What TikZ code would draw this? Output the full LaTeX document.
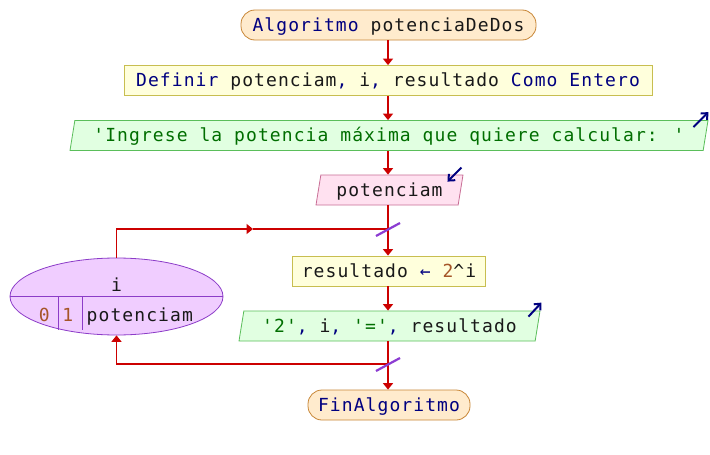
\documentclass[tikz,border=0pt]{standalone}
\usepackage{fontspec}
\newfontfamily\codefont{DejaVu Sans Mono}[LetterSpace=6]
\usetikzlibrary{shapes.geometric,arrows.meta}

\definecolor{kw}{RGB}{0,0,128}
\definecolor{strg}{RGB}{0,110,0}
\definecolor{numc}{RGB}{165,85,40}
\definecolor{txt}{RGB}{25,25,25}
\definecolor{flowred}{RGB}{204,0,0}
\definecolor{termfill}{RGB}{255,235,205}
\definecolor{termdraw}{RGB}{200,135,55}
\definecolor{procfill}{RGB}{255,255,220}
\definecolor{procdraw}{RGB}{200,190,80}
\definecolor{outfill}{RGB}{225,255,225}
\definecolor{outdraw}{RGB}{90,190,90}
\definecolor{infill}{RGB}{255,225,240}
\definecolor{indraw}{RGB}{200,110,150}
\definecolor{forfill}{RGB}{240,205,255}
\definecolor{fordraw}{RGB}{140,60,200}
\definecolor{slashc}{RGB}{140,60,210}

\newcommand{\kw}[1]{\textcolor{kw}{#1}}
\newcommand{\st}[1]{\textcolor{strg}{#1}}
\newcommand{\nm}[1]{\textcolor{numc}{#1}}

\tikzset{
  codetext/.style={font={\codefont\fontsize{18}{20}\selectfont}, text=txt},
  base/.style={codetext, minimum height=30pt, inner sep=0pt,
    text height=12pt, text depth=0pt, line width=0.8pt},
  term/.style={base, draw=termdraw, fill=termfill, rounded corners=14pt},
  proc/.style={base, draw=procdraw, fill=procfill},
  slanted/.style={base, trapezium, trapezium left angle=68,
    trapezium right angle=112, trapezium stretches body},
  outp/.style={slanted, draw=outdraw, fill=outfill},
  inp/.style={slanted, draw=indraw, fill=infill},
  forloop/.style={ellipse, draw=fordraw, fill=forfill, line width=0.8pt,
    inner sep=0pt, minimum width=213pt, minimum height=77pt},
  forlbl/.style={codetext, inner sep=0pt, anchor=base},
  flow/.style={draw=flowred, line width=1.9pt},
  arr/.style={-{Triangle[length=6.5pt,width=10pt]}},
  slash/.style={draw=slashc, line width=2.2pt},
  ioicon/.style={draw=kw, line width=2pt,
    -{Straight Barb[length=5pt,width=9pt]}},
}

\begin{document}
\begin{tikzpicture}[x=1pt,y=-1pt]
  \fill[white] (0,0) rectangle (710,455);
  \useasboundingbox (0,0) rectangle (710,455);

  % main column
  \node[term, minimum width=295pt] (start) at (388.5,25)
    {\kw{Algoritmo} potenciaDeDos};
  \node[proc, minimum width=528pt] (def) at (388,80.5)
    {\kw{Definir} potenciam\kw{,} i\kw{,} resultado \kw{Como Entero}};
  \node[outp, minimum width=638pt] (out1) at (389,135.5)
    {\st{'Ingrese la potencia máxima que quiere calcular: '}};
  \node[inp, minimum width=147pt] (in1) at (389.5,190) {potenciam};
  \node[proc, minimum width=193pt] (assign) at (389,271)
    {resultado \kw{←} \nm{2}\textasciicircum i};
  \node[outp, minimum width=301pt] (out2) at (389.5,326)
    {\st{'2'}\kw{,} i\kw{,} \st{'='}\kw{,} resultado};
  \node[term, minimum width=162pt] (fin) at (389,405) {\kw{FinAlgoritmo}};

  % loop header
  \node[forloop] (loop) at (116.5,296.5) {};
  \draw[fordraw, line width=0.8pt] (loop.west) -- (loop.east);
  \draw[fordraw, line width=0.8pt] (58,297) -- (58,329.5);
  \draw[fordraw, line width=0.8pt] (82,297) -- (82,329.5);
  \node[forlbl] (forvar) at (116.5,291.7) {i};
  \node[forlbl] (forfrom) at (44.3,321.7) {\nm{0}};
  \node[forlbl] (forstep) at (67.7,321.7) {\nm{1}};
  \node[forlbl, anchor=base west] (forto) at (86.5,321.7) {potenciam};

  % junctions of the loop
  \coordinate (jtop) at (388,229);
  \coordinate (jbot) at (388,364);
  \coordinate (upmid) at (253,229);

  % connectors
  \draw[flow, arr] (start.south -| jtop) -- (def.north -| jtop);
  \draw[flow, arr] (def.south -| jtop) -- (out1.north -| jtop);
  \draw[flow, arr] (out1.south -| jtop) -- (in1.north -| jtop);
  \draw[flow, arr] (in1.south -| jtop) -- (assign.north -| jtop);
  \draw[flow, arr] (assign.south -| jtop) -- (out2.north -| jtop);
  \draw[flow, arr] (out2.south -| jtop) -- (fin.north -| jtop);
  \draw[flow, arr] (loop.north) |- (upmid);
  \draw[flow] (upmid) -- (jtop);
  \draw[flow, arr] (jbot) -| (loop.south);

  % loop markers
  \draw[slash] ([shift={(-12,7)}]jtop) -- ([shift={(12,-6)}]jtop);
  \draw[slash] ([shift={(-12,7)}]jbot) -- ([shift={(12,-6)}]jbot);

  % input / output icons
  \draw[ioicon] ([shift={(-15,7)}]out1.top right corner)
    -- ([shift={(0,-8)}]out1.top right corner);
  \draw[ioicon] ([shift={(-2,-7)}]in1.top right corner)
    -- ([shift={(-16,7)}]in1.top right corner);
  \draw[ioicon] ([shift={(-12,6)}]out2.top right corner)
    -- ([shift={(1,-8)}]out2.top right corner);
\end{tikzpicture}
\end{document}
